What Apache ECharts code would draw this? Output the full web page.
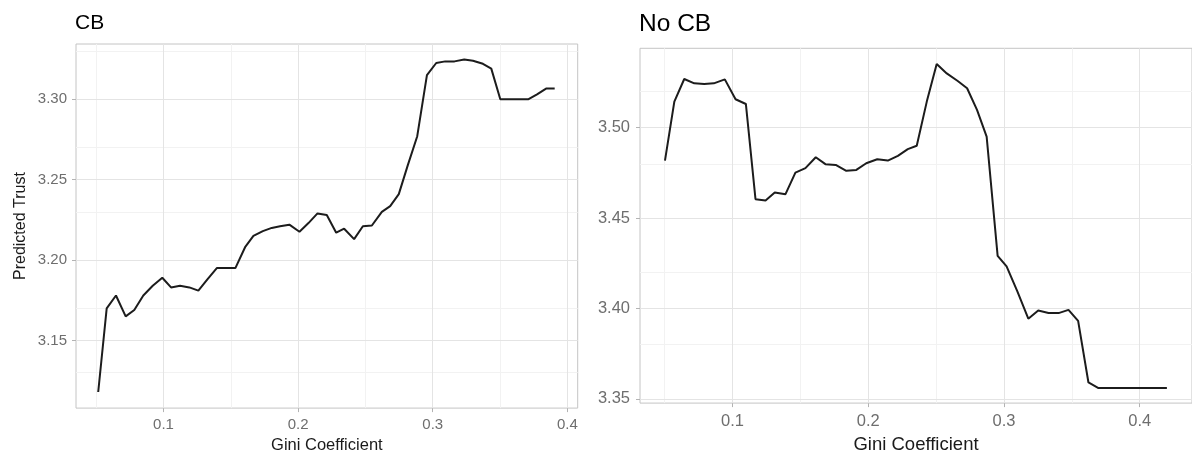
<!DOCTYPE html>
<html>
<head>
<meta charset="utf-8">
<script src="https://cdn.jsdelivr.net/npm/echarts@6/dist/echarts.min.js"></script>
<style>html,body{margin:0;padding:0;background:#fff}#c{width:1192px;height:459px}</style>
</head>
<body>
<div id="c"></div>
<script>
const leftGini = [0.0515,0.0578,0.0647,0.0719,0.0783,0.0850,0.0920,0.0991,0.1056,0.1123,0.1192,0.1259,0.1326,0.1396,0.1465,0.1534,0.1606,0.1668,0.1738,0.1804,0.1866,0.1935,0.2010,0.2077,0.2144,0.2213,0.2283,0.2342,0.2416,0.2481,0.2548,0.2622,0.2684,0.2748,0.2815,0.2885,0.2957,0.3026,0.3093,0.3162,0.3234,0.3299,0.3373,0.3435,0.3502,0.3570,0.3640,0.3712,0.3775,0.3842,0.3906];
const leftTrust = [3.118,3.170,3.178,3.165,3.169,3.178,3.184,3.189,3.183,3.184,3.183,3.181,3.188,3.195,3.195,3.195,3.208,3.215,3.218,3.220,3.221,3.222,3.2176,3.223,3.229,3.228,3.217,3.2195,3.213,3.221,3.2215,3.230,3.2335,3.241,3.259,3.277,3.315,3.3225,3.3235,3.3235,3.3246,3.3239,3.322,3.319,3.300,3.300,3.300,3.300,3.303,3.3066,3.3066];
const rightGini = [0.0502,0.0571,0.0644,0.0718,0.0791,0.0862,0.0943,0.1022,0.1098,0.1169,0.1243,0.1311,0.1390,0.1463,0.1537,0.1613,0.1684,0.1760,0.1838,0.1912,0.1985,0.2066,0.2144,0.2218,0.2291,0.2357,0.2431,0.2504,0.2578,0.2659,0.2728,0.2801,0.2872,0.2953,0.3019,0.3099,0.3179,0.3252,0.3328,0.3402,0.3475,0.3546,0.3622,0.3696,0.3770,0.3844,0.3918,0.3992,0.4066,0.4140,0.4200];
const rightTrust = [3.4818,3.5144,3.5269,3.5245,3.5242,3.5245,3.5267,3.5157,3.5131,3.4604,3.4597,3.4641,3.4632,3.4751,3.4776,3.4836,3.4798,3.4794,3.4761,3.4766,3.4803,3.4825,3.4818,3.4844,3.4881,3.4900,3.5144,3.5352,3.5300,3.5258,3.5218,3.5098,3.4950,3.4291,3.4232,3.4093,3.3943,3.3988,3.3974,3.3974,3.3992,3.3931,3.3590,3.3559,3.3559,3.3559,3.3559,3.3559,3.3559,3.3559,3.3559];

const xTicks = [0.1,0.2,0.3,0.4];
const xMinor = [0.05,0.15,0.25,0.35];
const leftYTicks = [3.15,3.20,3.25,3.30];
const leftYMinor = [3.125,3.175,3.225,3.275,3.325];
const rightYTicks = [3.35,3.40,3.45,3.50];
const rightYMinor = [3.375,3.425,3.475,3.525];

const FONT = '"Liberation Sans", Arial, sans-serif';
const zip = (a, b) => a.map((v, i) => [v, b[i]]);

function gridLines(idx, xs, ys, color, z) {
  return {
    type: 'line', xAxisIndex: idx, yAxisIndex: idx, data: [], z: z, silent: true,
    markLine: {
      silent: true, symbol: 'none', animation: false,
      label: {show: false},
      lineStyle: {color: color, type: 'solid', width: 1},
      emphasis: {disabled: true},
      data: xs.map(v => ({xAxis: v})).concat(ys.map(v => ({yAxis: v})))
    }
  };
}

function xAxis(idx, min, max, fs, margin, nameFs, gap) {
  return {
    type: 'value', gridIndex: idx, min: min, max: max,
    axisLine: {show: false},
    splitLine: {show: false},
    axisTick: {show: true, customValues: xTicks, length: 4, lineStyle: {color: '#b3b3b3'}},
    axisLabel: {customValues: xTicks, color: '#6e6e6e', fontSize: fs, fontFamily: FONT, margin: margin,
      formatter: v => v.toFixed(1)},
    name: 'Gini Coefficient', nameLocation: 'middle', nameGap: gap,
    nameTextStyle: {color: '#1a1a1a', fontSize: nameFs, fontFamily: FONT}
  };
}
function yAxis(idx, min, max, ticks, fs, margin, name) {
  return {
    type: 'value', gridIndex: idx, min: min, max: max,
    axisLine: {show: false},
    splitLine: {show: false},
    axisTick: {show: true, customValues: ticks, length: 4, lineStyle: {color: '#b3b3b3'}},
    axisLabel: {customValues: ticks, color: '#6e6e6e', fontSize: fs, fontFamily: FONT, margin: margin,
      formatter: v => v.toFixed(2)},
    name: name, nameLocation: 'middle', nameGap: 47,
    nameTextStyle: {color: '#1a1a1a', fontSize: 16, fontFamily: FONT}
  };
}

const chart = echarts.init(document.getElementById('c'), null, {renderer: 'canvas'});
chart.setOption({
  animation: false,
  backgroundColor: '#fff',
  title: [
    {text: 'CB', left: 75, top: 13, padding: 0, textStyle: {fontSize: 21, fontWeight: 'normal', color: '#000', fontFamily: FONT}},
    {text: 'No CB', left: 639, top: 12, padding: 0, textStyle: {fontSize: 24.5, fontWeight: 'normal', color: '#000', fontFamily: FONT}}
  ],
  grid: [
    {left: 76, top: 44, width: 501.7, height: 365, show: true, borderColor: '#c4c4c4', borderWidth: 1, backgroundColor: 'transparent'},
    {left: 640, top: 48.3, width: 553, height: 355, show: true, borderColor: '#c4c4c4', borderWidth: 1, backgroundColor: 'transparent'}
  ],
  xAxis: [
    xAxis(0, 0.035, 0.4077, 15, 9, 16.5, 27),
    xAxis(1, 0.0318, 0.4385, 16.5, 10, 18.5, 29)
  ],
  yAxis: [
    yAxis(0, 3.108, 3.3343, leftYTicks, 15, 9, 'Predicted Trust'),
    yAxis(1, 3.3476, 3.5439, rightYTicks, 16.5, 10, '')
  ],
  series: [
    gridLines(0, xMinor, leftYMinor, '#f2f2f2', 1),
    gridLines(0, xTicks, leftYTicks, '#e4e4e4', 2),
    gridLines(1, xMinor, rightYMinor, '#f2f2f2', 1),
    gridLines(1, xTicks, rightYTicks, '#e4e4e4', 2),
    {type: 'line', xAxisIndex: 0, yAxisIndex: 0, data: zip(leftGini, leftTrust), showSymbol: false, z: 5,
     lineStyle: {color: '#1c1c1c', width: 2}, silent: true},
    {type: 'line', xAxisIndex: 1, yAxisIndex: 1, data: zip(rightGini, rightTrust), showSymbol: false, z: 5,
     lineStyle: {color: '#1c1c1c', width: 2}, silent: true}
  ]
});
</script>
</body>
</html>
